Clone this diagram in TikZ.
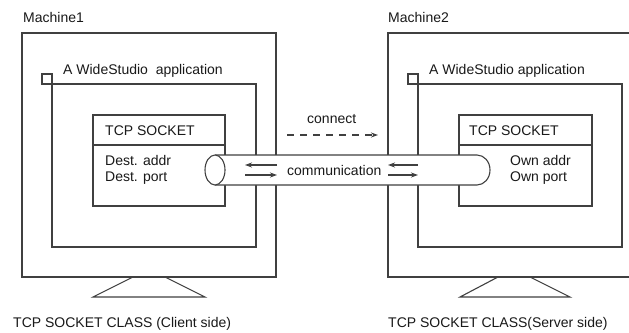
\documentclass[tikz,border=0pt]{standalone}
\usepackage{fontspec}
\setmainfont{Liberation Sans}
\usetikzlibrary{arrows.meta,shapes.geometric}
\begin{document}
\begin{tikzpicture}[x=1pt,y=-1pt,
  ln/.style={draw=black!75, line width=1.1pt},
  boxnode/.style={ln, rectangle, inner sep=0, outer sep=0, anchor=north west},
  txt/.style={inner sep=0, anchor=base west, text=black!90, font=\fontsize{14}{16}\selectfont},
  tip/.style={-{Stealth[length=7pt,width=5pt]}},
]
\useasboundingbox (0,0) rectangle (629,332);
\clip (0,0) rectangle (629,332);
\fill[white] (0,0) rectangle (629,332);

% Machine 1
\node[boxnode, minimum width=254pt, minimum height=244pt] (m1) at (22,33) {};
\node[boxnode, minimum width=10pt, minimum height=10pt] (sq1) at (42,74) {};
\node[boxnode, minimum width=204pt, minimum height=163pt] (app1) at (52,84) {};
\node[boxnode, minimum width=132pt, minimum height=91pt] (tcp1) at (93,115) {};
\coordinate (d1l) at (93,145);
\coordinate (d1r) at (225,145);
\draw[ln] (d1l) -- (d1r);
\coordinate (s1a) at (133,277);
\coordinate (s1b) at (165,277);
\coordinate (s1c) at (205,297);
\coordinate (s1d) at (93,297);
\draw[ln] (s1a) -- (s1d) -- (s1c) -- (s1b);

% Machine 2
\node[boxnode, minimum width=254pt, minimum height=244pt] (m2) at (388,33) {};
\node[boxnode, minimum width=10pt, minimum height=10pt] (sq2) at (408,74) {};
\node[boxnode, minimum width=204pt, minimum height=163pt] (app2) at (418,84) {};
\node[boxnode, minimum width=133pt, minimum height=91pt] (tcp2) at (459,115) {};
\coordinate (d2l) at (459,145);
\coordinate (d2r) at (592,145);
\draw[ln] (d2l) -- (d2r);
\coordinate (s2a) at (498,277);
\coordinate (s2b) at (530,277);
\coordinate (s2c) at (570,297);
\coordinate (s2d) at (460,297);
\draw[ln] (s2a) -- (s2d) -- (s2c) -- (s2b);

% Pipe
\coordinate (pt) at (215,155);
\coordinate (pr) at (477,155);
\coordinate (pb) at (215,185);
\draw[ln, fill=white] (pt) -- (pr) arc[start angle=90, end angle=-90, x radius=13pt, y radius=15pt] -- (pb);
\node[ln, fill=white, ellipse, minimum width=20pt, minimum height=30pt, inner sep=0] (pend) at (215,170) {};

% connect arrow
\coordinate (c1) at (287,135);
\coordinate (c2) at (378,135);
\draw[ln, dash pattern=on 7pt off 6pt, tip] (c1) -- (c2);

% communication arrows
\coordinate (a1) at (277,165); \coordinate (a2) at (245,165);
\coordinate (a3) at (245,175); \coordinate (a4) at (277,175);
\coordinate (b1) at (418,165); \coordinate (b2) at (388,165);
\coordinate (b3) at (388,175); \coordinate (b4) at (418,175);
\draw[ln, tip] (a1) -- (a2);
\draw[ln, tip] (a3) -- (a4);
\draw[ln, tip] (b1) -- (b2);
\draw[ln, tip] (b3) -- (b4);

% texts
\node[txt] (tm1) at (23,23) {Machine1};
\node[txt] (tm2) at (388,23) {Machine2};
\node[txt] (ta1) at (63,74) {A WideStudio\ \ application};
\node[txt] (ta2) at (429,74) {A WideStudio application};
\node[txt] (tt1) at (105,135) {TCP SOCKET};
\node[txt] (tt2) at (469,135) {TCP SOCKET};
\node[txt] (da) at (105,165) {Dest. addr};
\node[txt] (dp) at (105,181) {Dest. port};
\node[txt] (oa) at (510,165) {Own addr};
\node[txt] (op) at (510,181) {Own port};
\node[txt] (tc) at (307,123) {connect};
\node[txt] (tcm) at (287,175) {communication};
\node[txt] (cap1) at (13,327) {TCP SOCKET CLASS (Client side)};
\node[txt] (cap2) at (388,327) {TCP SOCKET CLASS(Server side)};
\end{tikzpicture}
\end{document}
